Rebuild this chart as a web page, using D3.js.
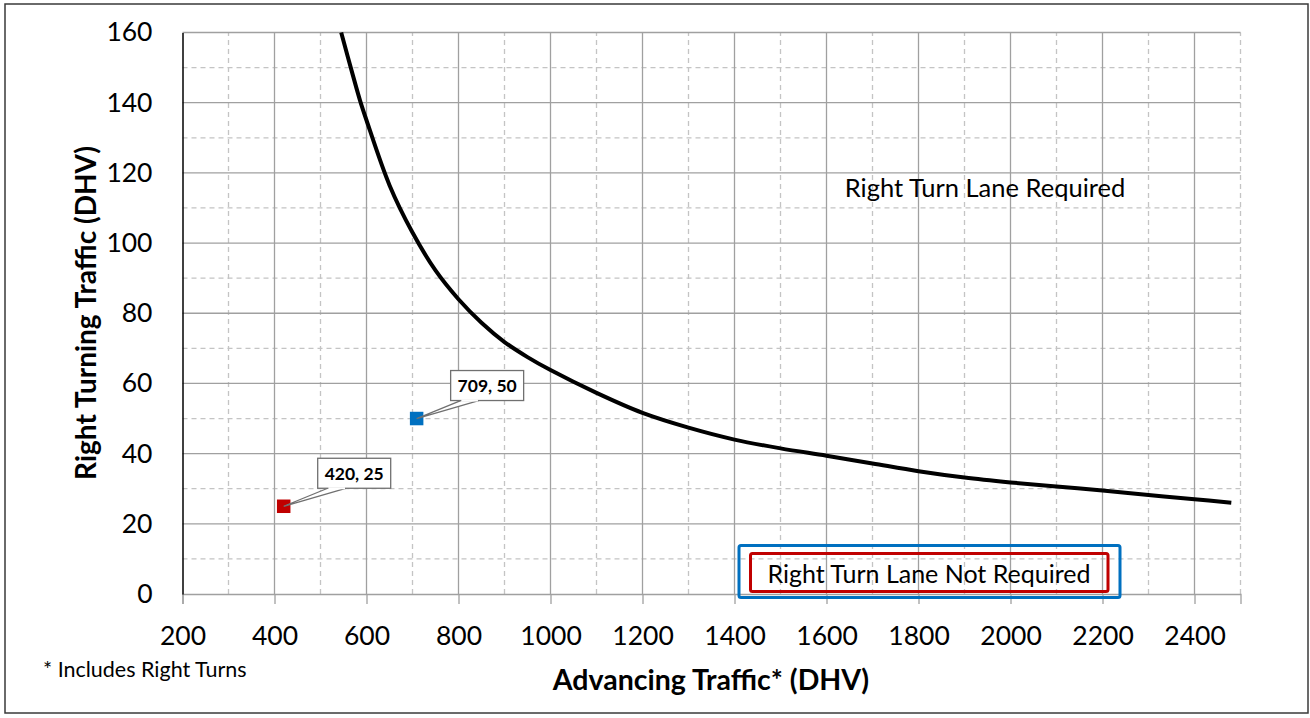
<!DOCTYPE html>
<html>
<head>
<meta charset="utf-8">
<script src="https://cdn.jsdelivr.net/npm/d3@7"></script>
<style>
  body { margin: 0; background: #fff; }
  #vis { width: 1310px; height: 718px; }
</style>
</head>
<body>
<div id="vis"></div>
<script>
// threshold curve (advancing DHV, right turning DHV)
const curveX = [545, 570, 586, 600, 650, 700, 750, 800, 850, 900, 950, 1000, 1100, 1200, 1300, 1400, 1500, 1600, 1700, 1800, 1900, 2000, 2100, 2200, 2300, 2400, 2480];
const curveY = [160, 148, 140.6, 135, 116.5, 103, 92.2, 84, 77.3, 71.8, 67.5, 63.8, 57.3, 51.6, 47.4, 44, 41.5, 39.4, 37.2, 35, 33.2, 31.8, 30.6, 29.5, 28.2, 27, 26];

const pointX = [420, 709];
const pointY = [25, 50];
const pointColor = ['#c00000', '#0070c0'];

const xTicks = [200, 400, 600, 800, 1000, 1200, 1400, 1600, 1800, 2000, 2200, 2400];
const yTicks = [0, 20, 40, 60, 80, 100, 120, 140, 160];
const xMinor = [300, 500, 700, 900, 1100, 1300, 1500, 1700, 1900, 2100, 2300, 2500];
const yMinor = [10, 30, 50, 70, 90, 110, 130, 150];

const font = 'Lato, "Open Sans", sans-serif';

const svg = d3.select('#vis').append('svg')
  .attr('width', 1310).attr('height', 718);

// outer frame
svg.append('rect')
  .attr('x', 5).attr('y', 4).attr('width', 1303).attr('height', 709)
  .attr('fill', 'none').attr('stroke', '#3a3a3a').attr('stroke-width', 1.5);

const x = d3.scaleLinear().domain([200, 2500]).range([182.5, 1240.5]);
const y = d3.scaleLinear().domain([0, 160]).range([594, 32.5]);

const grid = svg.append('g');
// minor dashed
grid.selectAll('.vx').data(xMinor).join('line')
  .attr('x1', d => x(d)).attr('x2', d => x(d))
  .attr('y1', y(0)).attr('y2', y(160))
  .attr('stroke', '#c4c4c4').attr('stroke-width', 1.3).attr('stroke-dasharray', '5,4');
grid.selectAll('.vy').data(yMinor).join('line')
  .attr('x1', x(200)).attr('x2', x(2500))
  .attr('y1', d => y(d)).attr('y2', d => y(d))
  .attr('stroke', '#c4c4c4').attr('stroke-width', 1.3).attr('stroke-dasharray', '5,4');
// major solid
grid.selectAll('.mx').data(xTicks.slice(1)).join('line')
  .attr('x1', d => x(d)).attr('x2', d => x(d))
  .attr('y1', y(0)).attr('y2', y(160))
  .attr('stroke', '#a0a0a0').attr('stroke-width', 1.3);
grid.selectAll('.my').data(yTicks.slice(1)).join('line')
  .attr('x1', x(200)).attr('x2', x(2500))
  .attr('y1', d => y(d)).attr('y2', d => y(d))
  .attr('stroke', '#a0a0a0').attr('stroke-width', 1.3);

// bottom axis
const xAxis = svg.append('g')
  .attr('transform', `translate(0,${y(0)})`)
  .call(d3.axisBottom(x).tickValues(xTicks).tickSize(10).tickPadding(22).tickFormat(d3.format('d')));
xAxis.select('.domain').attr('stroke', '#a0a0a0').attr('stroke-width', 1.3);
xAxis.selectAll('.tick line').attr('stroke', '#a0a0a0').attr('stroke-width', 1.3);
xAxis.selectAll('.tick text')
  .style('font-family', font).style('font-size', '26.5px').attr('fill', '#000');

// left axis
const yAxis = svg.append('g')
  .attr('transform', `translate(${x(200)},0)`)
  .call(d3.axisLeft(y).tickValues(yTicks).tickSize(0).tickPadding(30));
yAxis.select('.domain').attr('stroke', '#000').attr('stroke-width', 1.5);
yAxis.selectAll('.tick text')
  .style('font-family', font).style('font-size', '26.5px').attr('fill', '#000');

// threshold curve
const line = d3.line()
  .x((d, i) => x(curveX[i]))
  .y(d => y(d))
  .curve(d3.curveCatmullRom.alpha(0.5));
svg.append('path')
  .attr('d', line(curveY))
  .attr('fill', 'none').attr('stroke', '#000').attr('stroke-width', 4);

// region labels
svg.append('text')
  .attr('x', 985).attr('y', 197)
  .attr('text-anchor', 'middle')
  .style('font-family', font).style('font-size', '25.5px')
  .text('Right Turn Lane Required');

svg.append('rect')
  .attr('x', 739).attr('y', 545.5).attr('width', 381).attr('height', 52)
  .attr('rx', 2).attr('fill', 'none').attr('stroke', '#0070c0').attr('stroke-width', 3);
svg.append('rect')
  .attr('x', 750.5).attr('y', 553.5).attr('width', 357.5).attr('height', 38)
  .attr('rx', 2).attr('fill', 'none').attr('stroke', '#c00000').attr('stroke-width', 3);
svg.append('text')
  .attr('x', 929).attr('y', 583)
  .attr('text-anchor', 'middle')
  .style('font-family', font).style('font-size', '25px')
  .text('Right Turn Lane Not Required');

// data points with callouts
const pts = svg.append('g');
pointX.forEach((px, i) => {
  const cx = x(px), cy = y(pointY[i]);
  pts.append('rect')
    .attr('x', cx - 6.75).attr('y', cy - 6.75).attr('width', 13.5).attr('height', 13.5)
    .attr('fill', pointColor[i]);
});
pointX.forEach((px, i) => {
  const cx = x(px), cy = y(pointY[i]);
  const bx = cx + 34, by = cy - 48, bw = 73, bh = 30;
  pts.append('path')
    .attr('d', `M${bx + 10},${by + bh} L${cx},${cy} L${bx + 28},${by + bh}`)
    .attr('fill', '#fff').attr('stroke', '#707070').attr('stroke-width', 1.3);
  pts.append('rect')
    .attr('x', bx).attr('y', by).attr('width', bw).attr('height', bh)
    .attr('fill', '#fff').attr('stroke', '#707070').attr('stroke-width', 1.3);
  pts.append('rect')
    .attr('x', bx + 10.7).attr('y', by + bh - 1).attr('width', 16.6).attr('height', 2)
    .attr('fill', '#fff');
  pts.append('text')
    .attr('x', bx + bw / 2).attr('y', by + bh / 2 + 6.5)
    .attr('text-anchor', 'middle')
    .style('font-family', font).style('font-size', '17.5px').style('font-weight', 'bold')
    .text(px + ', ' + pointY[i]);
});

// axis titles
svg.append('text')
  .attr('x', 711).attr('y', 690)
  .attr('text-anchor', 'middle')
  .style('font-family', font).style('font-size', '28.5px').style('font-weight', 'bold')
  .text('Advancing Traffic* (DHV)');

svg.append('text')
  .attr('transform', 'translate(96,313) rotate(-90)')
  .attr('text-anchor', 'middle')
  .style('font-family', font).style('font-size', '28px').style('font-weight', 'bold')
  .text('Right Turning Traffic (DHV)');

svg.append('text')
  .attr('x', 43).attr('y', 677)
  .style('font-family', font).style('font-size', '21.5px')
  .text('* Includes Right Turns');
</script>
</body>
</html>
